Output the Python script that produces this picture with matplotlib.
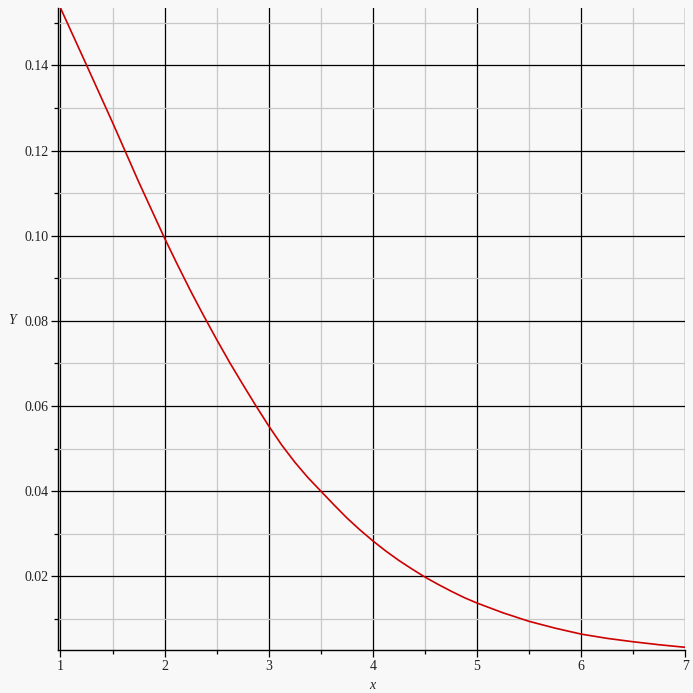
import matplotlib.pyplot as plt
from matplotlib.ticker import MultipleLocator, FormatStrFormatter

# values
x_vals = [1.0, 1.25, 1.5, 1.75, 2.0, 2.125, 2.25, 2.375, 2.5, 2.625, 2.75, 2.875,
          3.0, 3.125, 3.25, 3.375, 3.5, 3.625, 3.75, 3.875, 4.0, 4.125, 4.25,
          4.375, 4.5, 4.625, 4.75, 4.875, 5.0, 5.25, 5.5, 5.75, 6.0, 6.25, 6.5,
          6.75, 7.0]
y_vals = [0.1535, 0.1401, 0.1266, 0.1127, 0.0994, 0.0931, 0.0870, 0.0812, 0.0756,
          0.0702, 0.0651, 0.0601, 0.0553, 0.0508, 0.0468, 0.0432, 0.0400, 0.0368,
          0.0337, 0.0309, 0.0283, 0.0259, 0.0237, 0.0217, 0.0198, 0.0181, 0.0165,
          0.0150, 0.0137, 0.0114, 0.0094, 0.0078, 0.0064, 0.0054, 0.0046, 0.0039,
          0.0033]

bg = '#f8f8f8'
txt = '#222222'
plt.rcParams['font.family'] = ['Liberation Serif', 'DejaVu Serif']

fig = plt.figure(figsize=(6.93, 6.93), dpi=100, facecolor=bg)
ax = fig.add_axes([0.0841, 0.0620, 0.9889 - 0.0841, 0.9885 - 0.0620])
ax.set_facecolor(bg)

ax.plot(x_vals, y_vals, color='#cc0000', linewidth=1.2, zorder=3)

ax.set_xlim(0.979, 7.0)
ax.set_ylim(0.00266, 0.1535)

ax.xaxis.set_major_locator(MultipleLocator(1))
ax.xaxis.set_minor_locator(MultipleLocator(0.5))
ax.yaxis.set_major_locator(MultipleLocator(0.02))
ax.yaxis.set_minor_locator(MultipleLocator(0.01))
ax.yaxis.set_major_formatter(FormatStrFormatter('%.2f'))
ax.xaxis.set_major_formatter(FormatStrFormatter('%d'))

ax.grid(True, which='major', color='black', linewidth=0.9, zorder=1)
ax.grid(True, which='minor', color='#c8c8c8', linewidth=0.9, zorder=0)
ax.set_axisbelow(True)

for s in ['top', 'right']:
    ax.spines[s].set_visible(False)
for s in ['left', 'bottom']:
    ax.spines[s].set_linewidth(1.0)
    ax.spines[s].set_color('black')

ax.tick_params(which='major', length=5, width=0.9, color='black',
               labelsize=10, labelcolor=txt, pad=2)
ax.tick_params(which='minor', length=3, width=0.9, color='black')

ax.set_xlabel('x', fontstyle='italic', fontsize=10, color=txt)
ax.set_ylabel('Y', fontstyle='italic', fontsize=10, color=txt, rotation=0)
ax.xaxis.set_label_coords(0.500, -0.045)
ax.yaxis.set_label_coords(-0.074, 0.503)

fig.savefig('out.png', dpi=100, facecolor=bg)
